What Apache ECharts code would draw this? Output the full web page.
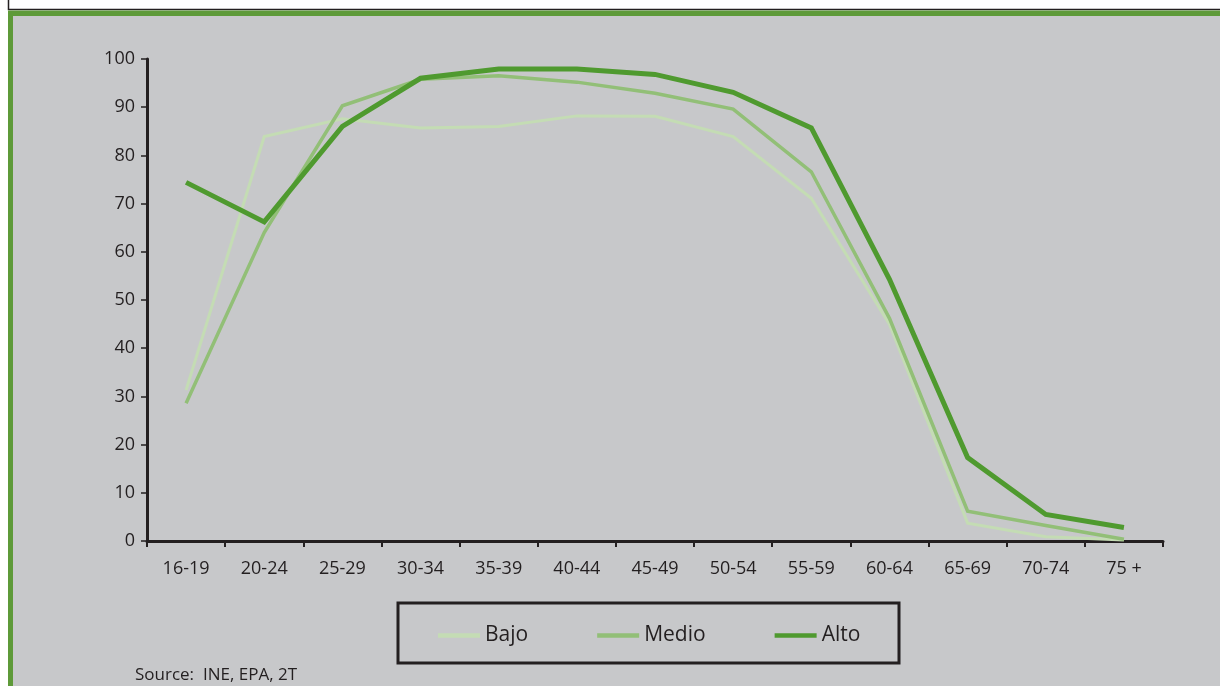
<!DOCTYPE html>
<html>
<head>
<meta charset="utf-8">
<script src="https://cdn.jsdelivr.net/npm/echarts@6/dist/echarts.min.js"></script>
<style>
  html, body { margin: 0; padding: 0; background: #ffffff; }
  #chart { width: 1220px; height: 686px; }
</style>
</head>
<body>
<div id="chart"></div>
<script>
// Age groups on the x axis
const ageGroups = ['16-19', '20-24', '25-29', '30-34', '35-39', '40-44', '45-49',
                   '50-54', '55-59', '60-64', '65-69', '70-74', '75 +'];

// Rate by education level (%)
const bajo  = [31.3, 83.9, 87.6, 85.7, 86.0, 88.2, 88.1, 83.9, 71.1, 45.0, 3.7, 0.9, 0.2];
const medio = [28.6, 64.0, 90.3, 95.8, 96.5, 95.2, 92.9, 89.6, 76.6, 46.2, 6.2, 3.2, 0.35];
const alto  = [74.4, 66.2, 86.0, 96.0, 97.9, 97.9, 96.8, 93.1, 85.7, 54.3, 17.3, 5.5, 2.8];

const seriesNames = ['Bajo', 'Medio', 'Alto'];
const sourceText = 'Source:  INE, EPA, 2T';

const FONT = '"Open Sans", Lato, sans-serif';
const INK = '#231f20';
const colors = { Bajo: '#c4dcb4', Medio: '#92bf77', Alto: '#4f9a2f' };
const widths = { Bajo: 3, Medio: 3.5, Alto: 5 };

const chart = echarts.init(document.getElementById('chart'), null, { renderer: 'canvas' });

function lineSeries(name, data) {
  return {
    name: name,
    type: 'line',
    data: data,
    symbol: 'none',
    lineStyle: { color: colors[name], width: widths[name], join: 'miter' },
    itemStyle: { color: colors[name] },
    z: 3
  };
}

chart.setOption({
  animation: false,
  backgroundColor: '#ffffff',
  graphic: [
    // thin white strip above with dark edge
    { type: 'rect', z: -10, shape: { x: 8.5, y: -5, width: 1300, height: 14.5 },
      style: { fill: '#ffffff', stroke: '#231f20', lineWidth: 1.5 } },
    // green frame
    { type: 'rect', z: -9, shape: { x: 8, y: 10.5, width: 1300, height: 700 },
      style: { fill: '#5e9a39' } },
    // grey panel
    { type: 'rect', z: -8, shape: { x: 13, y: 16, width: 1300, height: 700 },
      style: { fill: '#c7c8ca' } },
    // legend box
    { type: 'rect', z: 1, shape: { x: 398, y: 603, width: 501, height: 60 },
      style: { fill: 'transparent', stroke: INK, lineWidth: 3 } },
    // source note
    { type: 'text', z: 2, left: 135, top: 667,
      style: { text: sourceText, fill: INK, font: '17px ' + FONT } }
  ],
  legend: {
    data: seriesNames.map(function (n) {
      return { name: n, icon: 'rect', itemStyle: { color: colors[n] } };
    }),
    left: 433,
    top: 620,
    itemWidth: 42,
    itemHeight: 4.5,
    itemGap: 69,
    textStyle: { color: INK, fontSize: 21, fontFamily: FONT },
    selectedMode: false
  },
  grid: { left: 147, right: 57, top: 59, bottom: 145, containLabel: false },
  xAxis: {
    type: 'category',
    data: ageGroups,
    boundaryGap: true,
    axisLine: { show: true, lineStyle: { color: INK, width: 3 } },
    axisTick: { show: true, length: 6, lineStyle: { color: INK, width: 2 } },
    axisLabel: { color: INK, fontSize: 18, fontFamily: FONT, margin: 19 },
    splitLine: { show: false }
  },
  yAxis: {
    type: 'value',
    min: 0,
    max: 100,
    interval: 10,
    axisLine: { show: true, lineStyle: { color: INK, width: 3 } },
    axisTick: { show: true, length: 6, lineStyle: { color: INK, width: 1.5 } },
    axisLabel: { color: INK, fontSize: 18, fontFamily: FONT, margin: 12 },
    splitLine: { show: false }
  },
  series: [
    lineSeries('Bajo', bajo),
    lineSeries('Medio', medio),
    lineSeries('Alto', alto)
  ]
});
</script>
</body>
</html>
